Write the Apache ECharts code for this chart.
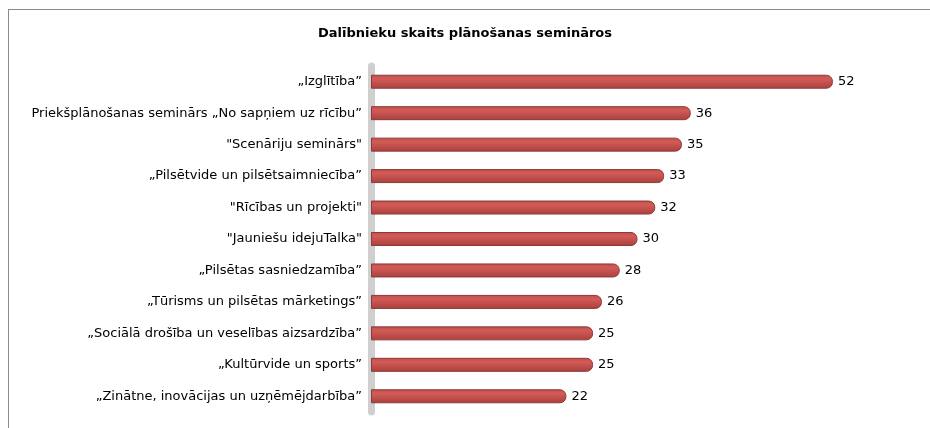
<!DOCTYPE html>
<html>
<head>
<meta charset="utf-8">
<script src="https://cdn.jsdelivr.net/npm/echarts@6/dist/echarts.min.js"></script>
<style>
  html, body { margin: 0; padding: 0; background: #fff; overflow: hidden; }
  #frame { position: absolute; left: 8px; top: 9px; width: 940px; height: 440px; border: 1px solid #8a8a8a; }
  #main { position: absolute; left: 0; top: 0; width: 930px; height: 428px; }
</style>
</head>
<body>
<div id="frame"></div>
<div id="main"></div>
<script>
var chartTitle = 'Dalībnieku skaits plānošanas semināros';

// top to bottom as in the picture
var categories = [
  '„Izglītība”',
  'Priekšplānošanas seminārs „No sapņiem uz rīcību”',
  '"Scenāriju seminārs"',
  '„Pilsētvide un pilsētsaimniecība”',
  '"Rīcības un projekti"',
  '"Jauniešu idejuTalka"',
  '„Pilsētas sasniedzamība”',
  '„Tūrisms un pilsētas mārketings”',
  '„Sociālā drošība un veselības aizsardzība”',
  '„Kultūrvide un sports”',
  '„Zinātne, inovācijas un uzņēmējdarbība”'
];
var participants = [52, 36, 35, 33, 32, 30, 28, 26, 25, 25, 22];

var myChart = echarts.init(document.getElementById('main'));

myChart.setOption({
    animation: false,
    title: {
        text: chartTitle,
        left: 'center',
        top: 22,
        textStyle: {
            fontFamily: 'DejaVu Sans',
            fontSize: 13,
            fontWeight: 'bold',
            color: '#000'
        }
    },
    grid: {
        left: 371,
        right: 26,
        top: 66,
        bottom: 16
    },
    xAxis: {
        type: 'value',
        min: 0,
        max: 60,
        show: false
    },
    yAxis: {
        type: 'category',
        inverse: true,
        data: categories,
        axisTick: { show: false },
        axisLine: {
            show: true,
            lineStyle: { color: '#cfcfcf', width: 7 }
        },
        axisLabel: {
            margin: 9,
            fontFamily: 'DejaVu Sans',
            fontSize: 13,
            color: '#000'
        }
    },
    series: [
        {
            type: 'bar',
            data: participants,
            barWidth: 14,
            itemStyle: {
                color: new echarts.graphic.LinearGradient(0, 0, 0, 1, [
                    { offset: 0, color: '#bf4f4c' },
                    { offset: 0.3, color: '#d35b57' },
                    { offset: 1, color: '#a8403d' }
                ]),
                borderColor: '#8c3a37',
                borderWidth: 1,
                borderRadius: [0, 6, 6, 0]
            },
            label: {
                show: true,
                position: 'right',
                distance: 5,
                fontFamily: 'DejaVu Sans',
                fontSize: 13,
                color: '#000'
            }
        }
    ]
});
</script>
</body>
</html>
